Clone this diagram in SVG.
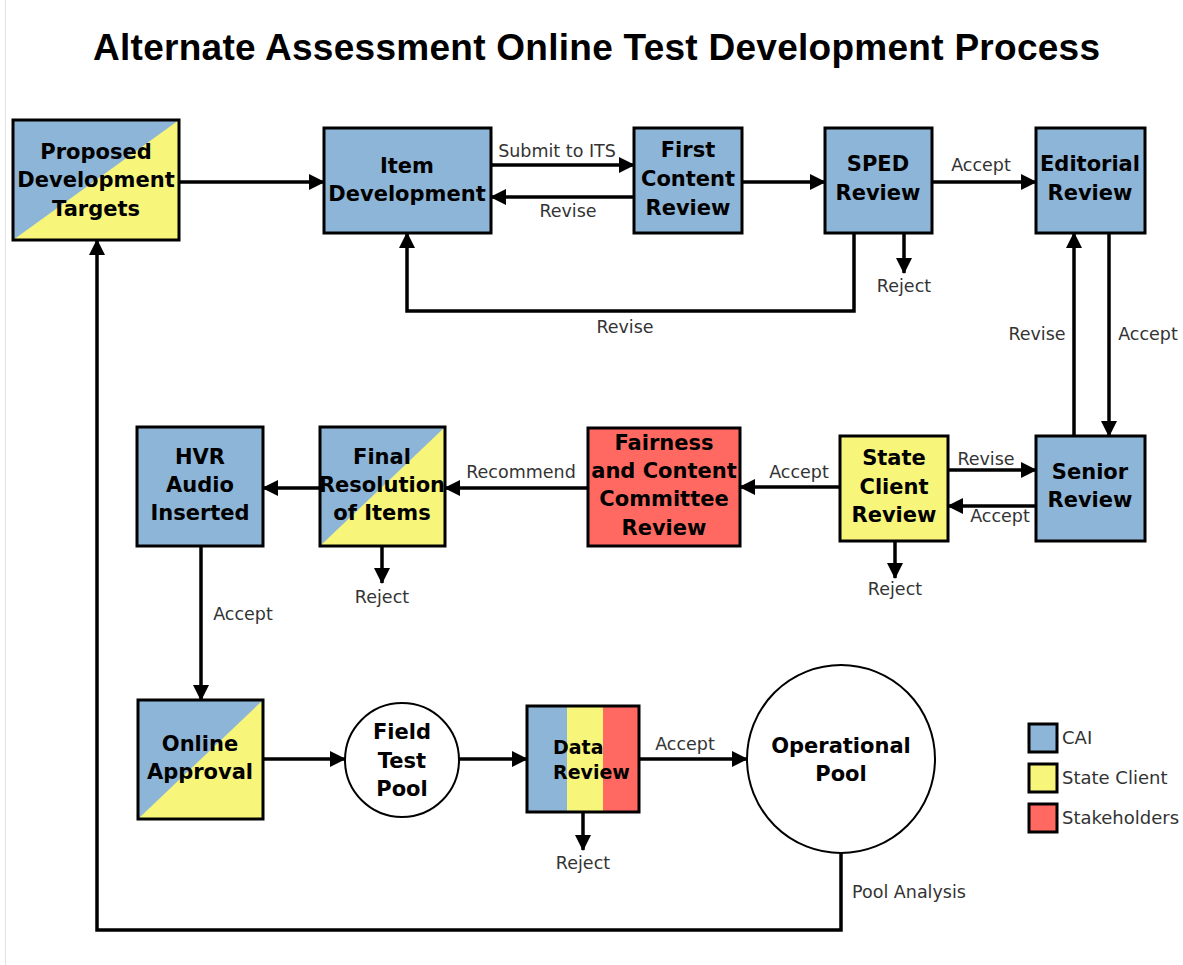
<svg xmlns="http://www.w3.org/2000/svg" width="1183" height="965" viewBox="0 0 1183 965">
  <style>
    .box { stroke: #000; stroke-width: 3; }
    .cai { fill: #8db5d7; }
    .client { fill: #f7f57a; }
    .stake { fill: #ff6961; }
    .pool { fill: #fff; stroke: #000; stroke-width: 2; }
    .node-text { font-family: "DejaVu Sans", "Liberation Sans", sans-serif; font-weight: bold; font-size: 21px; fill: #000; text-anchor: middle; }
    .label { font-family: "DejaVu Sans", "Liberation Sans", sans-serif; font-size: 17.5px; fill: #333; text-anchor: middle; }
    .legend-text { font-family: "DejaVu Sans", "Liberation Sans", sans-serif; font-size: 18px; fill: #333; }
    .title { font-family: "Liberation Sans", Arial, sans-serif; font-weight: bold; font-size: 37px; fill: #000; }
    .conn { fill: none; stroke: #000; stroke-width: 3.5; }
  </style>
  <defs>
    <marker id="arrow" markerUnits="userSpaceOnUse" markerWidth="16" markerHeight="16" refX="15" refY="8" orient="auto">
      <path d="M0,0 L16,8 L0,16 z" fill="#000"/>
    </marker>
  </defs>

  <rect x="0" y="0" width="1183" height="965" fill="#fff"/>
  <line x1="5.5" y1="0" x2="5.5" y2="965" stroke="#e2e2e2" stroke-width="1"/>

  <text class="title" x="93" y="60" textLength="1007" lengthAdjust="spacing">Alternate Assessment Online Test Development Process</text>

  <!-- connectors -->
  <g id="connectors">
    <path class="conn" d="M179,182 H324" marker-end="url(#arrow)"/>
    <path class="conn" d="M491,165 H634" marker-end="url(#arrow)"/>
    <path class="conn" d="M634,197 H491" marker-end="url(#arrow)"/>
    <path class="conn" d="M742,182 H825" marker-end="url(#arrow)"/>
    <path class="conn" d="M932,182 H1036" marker-end="url(#arrow)"/>
    <path class="conn" d="M904,233 V273" marker-end="url(#arrow)"/>
    <path class="conn" d="M854,233 V311 H407 V233" marker-end="url(#arrow)"/>
    <path class="conn" d="M1109,233 V436" marker-end="url(#arrow)"/>
    <path class="conn" d="M1074,436 V233" marker-end="url(#arrow)"/>
    <path class="conn" d="M948,470 H1036" marker-end="url(#arrow)"/>
    <path class="conn" d="M1036,506 H948" marker-end="url(#arrow)"/>
    <path class="conn" d="M895,541 V578" marker-end="url(#arrow)"/>
    <path class="conn" d="M840,487 H740" marker-end="url(#arrow)"/>
    <path class="conn" d="M588,488 H445" marker-end="url(#arrow)"/>
    <path class="conn" d="M320,488 H263" marker-end="url(#arrow)"/>
    <path class="conn" d="M382,546 V583" marker-end="url(#arrow)"/>
    <path class="conn" d="M201,546 V700" marker-end="url(#arrow)"/>
    <path class="conn" d="M263,759 H345" marker-end="url(#arrow)"/>
    <path class="conn" d="M459,759 H527" marker-end="url(#arrow)"/>
    <path class="conn" d="M583,812 V850" marker-end="url(#arrow)"/>
    <path class="conn" d="M639,759 H747" marker-end="url(#arrow)"/>
    <path class="conn" d="M841,853 V930 H97 V240" marker-end="url(#arrow)"/>

    <text class="label" x="557" y="157">Submit to ITS</text>
    <text class="label" x="568" y="217">Revise</text>
    <text class="label" x="981" y="171">Accept</text>
    <text class="label" x="904" y="292">Reject</text>
    <text class="label" x="625" y="333">Revise</text>
    <text class="label" x="1037" y="340">Revise</text>
    <text class="label" x="1148" y="340">Accept</text>
    <text class="label" x="986" y="465">Revise</text>
    <text class="label" x="1000" y="522">Accept</text>
    <text class="label" x="799" y="478">Accept</text>
    <text class="label" x="521" y="478">Recommend</text>
    <text class="label" x="895" y="595">Reject</text>
    <text class="label" x="382" y="603">Reject</text>
    <text class="label" x="243" y="620">Accept</text>
    <text class="label" x="685" y="750">Accept</text>
    <text class="label" x="583" y="869">Reject</text>
    <text class="label" x="909" y="898">Pool Analysis</text>
  </g>

  <!-- nodes -->
  <g id="proposed-development-targets">
    <rect class="cai" x="13" y="120" width="166" height="120"/>
    <polygon class="client" points="13,240 179,120 179,240"/>
    <rect x="13" y="120" width="166" height="120" fill="none" class="box"/>
    <text class="node-text" x="96" y="159">Proposed</text>
    <text class="node-text" x="96" y="187">Development</text>
    <text class="node-text" x="96" y="216">Targets</text>
  </g>

  <g id="item-development">
    <rect class="box cai" x="324" y="128" width="167" height="105"/>
    <text class="node-text" x="407" y="173">Item</text>
    <text class="node-text" x="407" y="201">Development</text>
  </g>

  <g id="first-content-review">
    <rect class="box cai" x="634" y="128" width="108" height="105"/>
    <text class="node-text" x="688" y="157">First</text>
    <text class="node-text" x="688" y="186">Content</text>
    <text class="node-text" x="688" y="215">Review</text>
  </g>

  <g id="sped-review">
    <rect class="box cai" x="825" y="128" width="107" height="105"/>
    <text class="node-text" x="878" y="171">SPED</text>
    <text class="node-text" x="878" y="200">Review</text>
  </g>

  <g id="editorial-review">
    <rect class="box cai" x="1036" y="128" width="109" height="105"/>
    <text class="node-text" x="1090" y="171">Editorial</text>
    <text class="node-text" x="1090" y="200">Review</text>
  </g>

  <g id="senior-review">
    <rect class="box cai" x="1036" y="436" width="109" height="105"/>
    <text class="node-text" x="1090" y="479">Senior</text>
    <text class="node-text" x="1090" y="507">Review</text>
  </g>

  <g id="state-client-review">
    <rect class="box client" x="840" y="436" width="108" height="105"/>
    <text class="node-text" x="894" y="465">State</text>
    <text class="node-text" x="894" y="494">Client</text>
    <text class="node-text" x="894" y="522">Review</text>
  </g>

  <g id="fairness-committee-review">
    <rect class="box stake" x="588" y="428" width="152" height="118"/>
    <text class="node-text" x="664" y="450">Fairness</text>
    <text class="node-text" x="664" y="478">and Content</text>
    <text class="node-text" x="664" y="506">Committee</text>
    <text class="node-text" x="664" y="535">Review</text>
  </g>

  <g id="final-resolution">
    <rect class="cai" x="320" y="427" width="125" height="119"/>
    <polygon class="client" points="320,546 445,427 445,546"/>
    <rect x="320" y="427" width="125" height="119" fill="none" class="box"/>
    <text class="node-text" x="382" y="464">Final</text>
    <text class="node-text" x="382" y="492">Resolution</text>
    <text class="node-text" x="382" y="520">of Items</text>
  </g>

  <g id="hvr-audio-inserted">
    <rect class="box cai" x="137" y="427" width="126" height="119"/>
    <text class="node-text" x="200" y="464">HVR</text>
    <text class="node-text" x="200" y="492">Audio</text>
    <text class="node-text" x="200" y="520">Inserted</text>
  </g>

  <g id="online-approval">
    <rect class="cai" x="138" y="700" width="125" height="119"/>
    <polygon class="client" points="138,819 263,700 263,819"/>
    <rect x="138" y="700" width="125" height="119" fill="none" class="box"/>
    <text class="node-text" x="200" y="751">Online</text>
    <text class="node-text" x="200" y="779">Approval</text>
  </g>

  <g id="field-test-pool">
    <circle class="pool" cx="402" cy="760" r="57"/>
    <text class="node-text" x="402" y="739">Field</text>
    <text class="node-text" x="402" y="768">Test</text>
    <text class="node-text" x="402" y="796">Pool</text>
  </g>

  <g id="data-review">
    <rect class="cai" x="527" y="706" width="40" height="106"/>
    <rect class="client" x="567" y="706" width="36" height="106"/>
    <rect class="stake" x="603" y="706" width="36" height="106"/>
    <rect x="527" y="706" width="112" height="106" fill="none" class="box"/>
    <text class="node-text" x="553" y="754" style="font-size:19px;text-anchor:start">Data</text>
    <text class="node-text" x="553" y="779" style="font-size:19px;text-anchor:start">Review</text>
  </g>

  <g id="operational-pool">
    <circle class="pool" cx="841" cy="759" r="94"/>
    <text class="node-text" x="841" y="753">Operational</text>
    <text class="node-text" x="841" y="781">Pool</text>
  </g>

  <g id="legend">
    <rect class="box cai" x="1029" y="724" width="28" height="28"/>
    <rect class="box client" x="1029" y="764" width="28" height="28"/>
    <rect class="box stake" x="1029" y="804" width="28" height="28"/>
    <text class="legend-text" x="1062" y="744">CAI</text>
    <text class="legend-text" x="1062" y="784">State Client</text>
    <text class="legend-text" x="1062" y="824">Stakeholders</text>
  </g>
</svg>
